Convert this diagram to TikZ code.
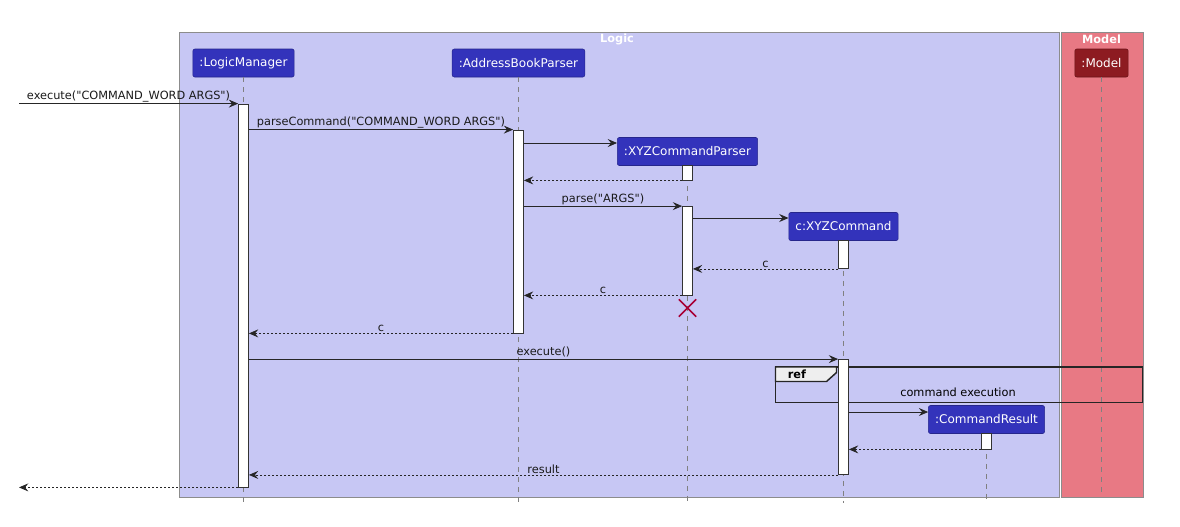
\documentclass[tikz,border=0pt]{standalone}
\usepackage{fontspec}
\setmainfont{DejaVu Sans}[Ligatures=TeXOff]
\usetikzlibrary{arrows.meta,fit,shapes.misc}

\definecolor{logicbg}{RGB}{199,199,244}
\definecolor{modelbg}{RGB}{232,121,132}
\definecolor{partblue}{RGB}{51,51,187}
\definecolor{partred}{RGB}{141,27,33}
\definecolor{destroyred}{RGB}{168,0,54}
\definecolor{tabgray}{RGB}{238,238,238}

\tikzset{
  boxline/.style={draw=black!45, line width=0.5pt},
  boxtitle/.style={text=white, font=\bfseries\fontsize{8.5}{10}\selectfont, inner sep=0pt},
  participant/.style={fill=partblue, draw=partblue!75!black, rounded corners=1.5pt, text=white,
    font=\fontsize{9}{11}\selectfont, minimum height=21pt, inner xsep=5pt},
  lifeline/.style={draw=black!50, line width=0.6pt, dash pattern=on 3.75pt off 3.75pt},
  actbar/.style={draw=black!80, fill=white, line width=0.6pt, inner sep=0pt},
  msg/.style={-{Stealth[length=7pt,width=6pt,inset=2.5pt]}, draw=black!85, line width=0.6pt},
  reply/.style={msg, dash pattern=on 1.5pt off 1.5pt},
  lbl/.style={above, font=\fontsize{8.5}{10}\selectfont, inner sep=1pt, text=black!90},
  refline/.style={draw=black!85, line width=1.1pt}
}

\begin{document}
\begin{tikzpicture}[x=0.75pt,y=-0.75pt]
  \useasboundingbox (0,0) rectangle (1180,526);

  % Boxes
  \draw[boxline, fill=logicbg] (179.5,32) rectangle (1059,497.5);
  \node[boxtitle] at (617,39) {Logic};
  \draw[boxline, fill=modelbg] (1061,32) rectangle (1143,497.5);
  \node[boxtitle] at (1101.5,39) {Model};

  % Participants
  \node[participant] (lm) at (243.5,63) {:LogicManager};
  \node[participant] (abp) at (518.5,63) {:AddressBookParser};
  \node[participant, fill=partred, draw=partred!75!black] (model) at (1101.5,63) {:Model};
  \node[participant] (xyzp) at (687.5,151.5) {:XYZCommandParser};
  \node[participant] (xyzc) at (843.5,226.5) {c:XYZCommand};
  \node[participant] (cr) at (986.5,419.5) {:CommandResult};
  \coordinate (caller) at (19,0);

  % Lifelines
  \foreach \p in {lm,abp,xyzp,xyzc,cr}
    \draw[lifeline] (\p.south) -- (\p.south |- 0,503);
  \draw[lifeline] (model.south) -- (model.south |- 0,497);

  % Activations
  \node[actbar, fit={(238.5,104)(248.5,487)}] (aLM) {};
  \node[actbar, fit={(513.5,130)(523.5,333)}] (aABP) {};
  \node[actbar, fit={(682.5,165)(692.5,180)}] (aXP1) {};
  \node[actbar, fit={(682.5,206.5)(692.5,295)}] (aXP2) {};
  \node[actbar, fit={(838.5,240)(848.5,268.5)}] (aXC1) {};
  \node[actbar, fit={(981.5,433)(991.5,449)}] (aCR) {};

  % ref frame
  \draw[refline] (775.5,367) rectangle (1142.5,402.5);
  \draw[refline, fill=tabgray] (775.5,367) -- (836.5,367) -- (836.5,372.5)
    -- (826.5,381.5) -- (775.5,381.5) -- cycle;
  \node[font=\bfseries\fontsize{8.5}{10}\selectfont, inner sep=0pt] at (797,374.5) {ref};
  \node[font=\fontsize{8.5}{10}\selectfont, inner sep=0pt] at (958,392) {command execution};

  \node[actbar, fit={(838.5,359.5)(848.5,474.5)}] (aXC2) {};

  % Messages
  \draw[msg] (caller |- aLM.north) -- node[lbl]{execute("COMMAND\_WORD ARGS")} (aLM.north west);
  \draw[msg] (aLM.east |- aABP.north) -- node[lbl]{parseCommand("COMMAND\_WORD ARGS")} (aABP.north west);
  \draw[msg] (aABP.east |- 0,143) -- (xyzp.west |- 0,143);
  \draw[reply] (aXP1.south west) -- (aABP.east |- aXP1.south);
  \draw[msg] (aABP.east |- aXP2.north) -- node[lbl]{parse("ARGS")} (aXP2.north west);
  \draw[msg] (aXP2.east |- 0,218) -- (xyzc.west |- 0,218);
  \draw[reply] (aXC1.south west) -- node[lbl]{c} (aXP2.east |- aXC1.south);
  \draw[reply] (aXP2.south west) -- node[lbl]{c} (aABP.east |- aXP2.south);
  \node[cross out, draw=destroyred, line width=1.1pt, minimum size=12pt, inner sep=0pt] (xdel)
    at (aXP2.south |- 0,308) {};
  \draw[reply] (aABP.south west) -- node[lbl]{c} (aLM.east |- aABP.south);
  \draw[msg] (aLM.east |- aXC2.north) -- node[lbl]{execute()} (aXC2.north west);
  \draw[msg] (aXC2.east |- 0,412) -- (cr.west |- 0,412);
  \draw[reply] (aCR.south west) -- (aXC2.east |- aCR.south);
  \draw[reply] (aXC2.south west) -- node[lbl]{result} (aLM.east |- aXC2.south);
  \draw[reply] (aLM.south west) -- (caller |- aLM.south);
\end{tikzpicture}
\end{document}
